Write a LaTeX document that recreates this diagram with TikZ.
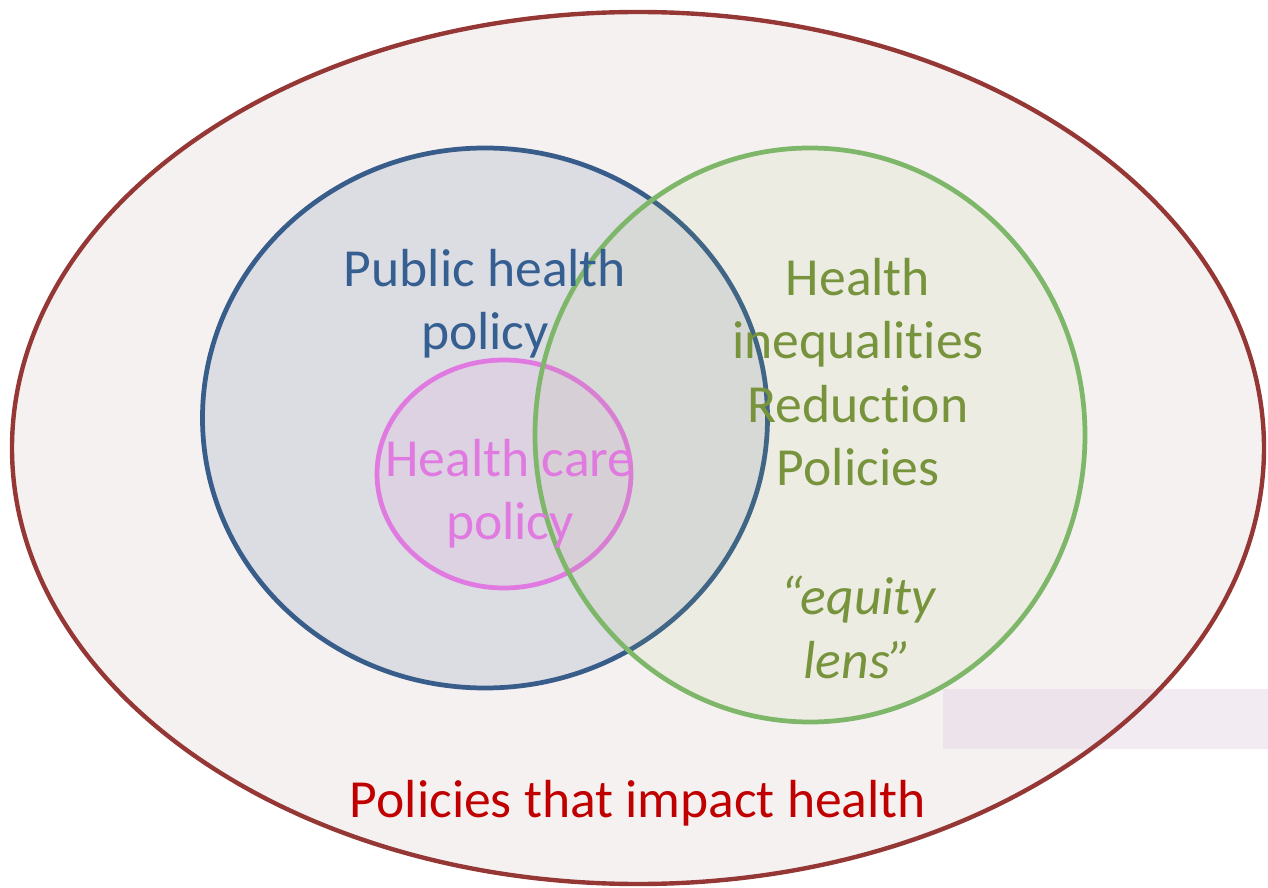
\documentclass[tikz,border=0pt]{standalone}
\usepackage{fontspec}
\setmainfont{Carlito}[Ligatures=NoCommon]
\usepackage{tikz}
\usetikzlibrary{shapes,positioning}
\usepackage{xcolor}
\definecolor{phred}{RGB}{149,55,53}
\definecolor{phredtext}{RGB}{192,0,0}
\definecolor{phpink}{RGB}{245,241,241}
\definecolor{phblue}{RGB}{56,93,138}
\definecolor{phbluetext}{RGB}{54,95,145}
\definecolor{phgreen}{RGB}{126,183,106}
\definecolor{phgreenfill}{RGB}{155,187,89}
\definecolor{phgreentext}{RGB}{119,147,60}
\definecolor{phorchid}{RGB}{224,122,224}
\definecolor{phband}{RGB}{230,216,230}
\tikzstyle{policyset} = [ellipse, inner sep=0pt, line width=2.7pt]
\tikzstyle{setlabel} = [align=center, font=\fontsize{30.5}{36}\selectfont]

\begin{document}
\begin{tikzpicture}
\useasboundingbox (0,0) rectangle (25.36,17.74);
% nested policy sets
\node[policyset, fill=phpink, minimum width=25.04cm, minimum height=17.44cm] (impact) at (12.76,8.78) {};
\fill[phband, opacity=0.5] (18.86,2.76) rectangle (25.36,3.96);
\draw[phred, line width=2.5pt] (impact.center) ellipse (12.52cm and 8.72cm);
\node[policyset, draw=phblue, fill=phblue, fill opacity=0.13, minimum width=11.3cm, minimum height=10.8cm] (public) at (9.70,9.38) {};
\node[policyset, draw=phorchid, fill=phorchid, fill opacity=0.1, minimum width=5.08cm, minimum height=4.56cm] (care) at (10.08,8.26) {};
\node[policyset, draw=phgreen, fill=phgreenfill, fill opacity=0.09, minimum width=11.0cm, minimum height=11.48cm] (equity) at (16.20,9.04) {};

% labels
\node[setlabel, text=phbluetext] (publiclbl) at (9.70,11.67) {Public health\\policy};
\node[setlabel, text=phorchid] (carelbl) at (10.20,7.87) {Health care\\policy};
\node[setlabel, text=phgreentext] (equitylbl) at (17.16,10.30) {Health\\inequalities\\Reduction\\Policies};
\node[setlabel, text=phgreentext, font=\fontsize{30.5}{36}\selectfont\itshape] (lenslbl) at (17.16,5.19) {``equity\\lens''};
\node[setlabel, text=phredtext] (impactlbl) at (12.76,1.68) {Policies that impact health};
\end{tikzpicture}
\end{document}
